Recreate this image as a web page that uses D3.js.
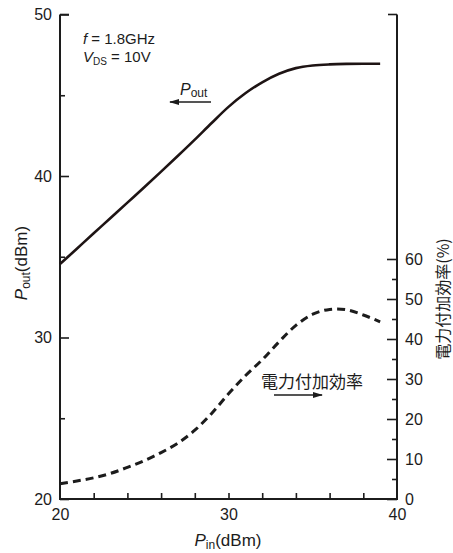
<!DOCTYPE html>
<html>
<head>
<meta charset="utf-8">
<script src="https://cdn.jsdelivr.net/npm/d3@7"></script>
<style>
  html, body { margin: 0; padding: 0; background: #fff; }
  svg { display: block; font-family: "Liberation Sans", Arial, sans-serif; }
  .jp { font-family: "Noto Sans CJK JP", sans-serif; }
</style>
</head>
<body>
<svg id="chart" width="453" height="553"></svg>
<script>
// Pin (dBm) sample points, Pout (dBm, left axis), power-added efficiency (%, right axis)
const pinValues = [20, 21, 22, 23, 24, 25, 26, 27, 28, 29, 30, 31, 32, 33, 34, 35, 36, 37, 38, 39];
const poutValues = [34.55, 35.5, 36.45, 37.4, 38.35, 39.3, 40.27, 41.25, 42.25, 43.28, 44.28, 45.12, 45.8, 46.33, 46.68, 46.84, 46.91, 46.94, 46.95, 46.95];
const paeValues = [3.8, 4.5, 5.3, 6.4, 7.9, 9.6, 11.6, 14.0, 17.2, 21.4, 26.3, 30.8, 34.8, 39.3, 43.4, 46.2, 47.4, 47.3, 46.0, 44.3];

const xTicks = [20, 30, 40];
const xMinorTicks = [22, 24, 26, 28, 30, 32, 34, 36, 38];
const leftTicks = [20, 30, 40, 50];
const leftMinorTicks = [25, 35, 45];
const rightTicks = [0, 10, 20, 30, 40, 50, 60];
const rightMinorTicks = [5, 15, 25, 35, 45, 55];

const svg = d3.select('#chart');
const ink = '#1c1c1c';

const x = d3.scaleLinear().domain([20, 40]).range([60, 397]);
const yL = d3.scaleLinear().domain([20, 50]).range([499, 14.5]);
const yR = d3.scaleLinear().domain([0, 60]).range([499, 259]);

function styleAxis(g, size) {
  g.selectAll('path.domain').remove();
  g.selectAll('line').attr('stroke', ink).attr('stroke-width', 1.6);
  g.selectAll('text').attr('fill', ink).attr('font-size', size);
}

// left axis (ticks point inward)
svg.append('g')
  .attr('transform', 'translate(60,0)')
  .call(d3.axisLeft(yL).tickValues(leftTicks).tickSizeInner(-9).tickSizeOuter(0).tickPadding(8))
  .call((g) => styleAxis(g, 16));
svg.append('g')
  .attr('transform', 'translate(60,0)')
  .call(d3.axisLeft(yL).tickValues(leftMinorTicks).tickSizeInner(-5).tickSizeOuter(0).tickFormat(''))
  .call((g) => styleAxis(g, 16));

// right axis
svg.append('g')
  .attr('transform', 'translate(397,0)')
  .call(d3.axisRight(yR).tickValues(rightTicks).tickSizeInner(-10).tickSizeOuter(0).tickPadding(8))
  .call((g) => styleAxis(g, 16));
svg.append('g')
  .attr('transform', 'translate(397,0)')
  .call(d3.axisRight(yR).tickValues(rightMinorTicks).tickSizeInner(-5).tickSizeOuter(0).tickFormat(''))
  .call((g) => styleAxis(g, 16));

// bottom axis
svg.append('g')
  .attr('transform', 'translate(0,499)')
  .call(d3.axisBottom(x).tickValues(xTicks).tickSizeInner(0).tickSizeOuter(0).tickPadding(10))
  .call((g) => styleAxis(g, 16));
svg.append('g')
  .attr('transform', 'translate(0,499)')
  .call(d3.axisBottom(x).tickValues(xMinorTicks).tickSizeInner(-6).tickSizeOuter(0).tickFormat(''))
  .call((g) => styleAxis(g, 16));

// frame lines: left, right, bottom, and the small top ticks
const frame = svg.append('g').attr('stroke', ink).attr('stroke-width', 2).attr('fill', 'none');
frame.append('path').attr('d', `M${x(20)},${yL(50)}V${yL(20)}H${x(40)}V${yL(50)}`);
frame.append('path').attr('d', `M${x(20)},${yL(50)}h9`).attr('stroke-width', 1.6);
frame.append('path').attr('d', `M${x(40)},${yL(50)}h-9`).attr('stroke-width', 1.6);

// curves
const poutLine = d3.line().curve(d3.curveCatmullRom.alpha(0.5)).x((d, i) => x(pinValues[i])).y((d) => yL(d));
const paeLine = d3.line().curve(d3.curveCatmullRom.alpha(0.5)).x((d, i) => x(pinValues[i])).y((d) => yR(d));

svg.append('path')
  .attr('d', poutLine(poutValues))
  .attr('fill', 'none')
  .attr('stroke', '#1e1414')
  .attr('stroke-width', 2.6);

svg.append('path')
  .attr('d', paeLine(paeValues))
  .attr('fill', 'none')
  .attr('stroke', ink)
  .attr('stroke-width', 3)
  .attr('stroke-dasharray', '8,5');

// arrow marker
svg.append('defs').append('marker')
  .attr('id', 'arrow')
  .attr('viewBox', '0 0 10 6')
  .attr('refX', 9).attr('refY', 3)
  .attr('markerWidth', 10).attr('markerHeight', 6)
  .attr('markerUnits', 'userSpaceOnUse')
  .attr('orient', 'auto')
  .append('path').attr('d', 'M0,0L10,3L0,6Z').attr('fill', ink);

// annotations
const note = svg.append('g').attr('fill', ink).attr('font-size', 15);
const t1 = note.append('text').attr('x', 83).attr('y', 44);
t1.append('tspan').attr('font-style', 'italic').text('f');
t1.append('tspan').text(' = 1.8GHz');
const t2 = note.append('text').attr('x', 83).attr('y', 62);
t2.append('tspan').attr('font-style', 'italic').text('V');
t2.append('tspan').attr('font-size', 10).attr('dy', 3).text('DS');
t2.append('tspan').attr('dy', -3).text(' = 10V');

const pl = note.append('text').attr('x', 180).attr('y', 95).attr('font-size', 16);
pl.append('tspan').attr('font-style', 'italic').text('P');
pl.append('tspan').attr('font-size', 12).attr('dy', 2).text('out');
svg.append('line')
  .attr('x1', 211).attr('x2', 170).attr('y1', 102).attr('y2', 102)
  .attr('stroke', ink).attr('stroke-width', 1.4).attr('marker-end', 'url(#arrow)');

svg.append('text').attr('class', 'jp')
  .attr('x', 312).attr('y', 388).attr('text-anchor', 'middle')
  .attr('font-size', 17).attr('fill', ink).text('電力付加効率');
svg.append('line')
  .attr('x1', 274).attr('x2', 322).attr('y1', 395).attr('y2', 395)
  .attr('stroke', ink).attr('stroke-width', 1.4).attr('marker-end', 'url(#arrow)');

// axis titles
const yTitle = svg.append('text')
  .attr('transform', 'translate(27,263) rotate(-90)')
  .attr('text-anchor', 'middle').attr('font-size', 17).attr('fill', ink);
yTitle.append('tspan').attr('font-style', 'italic').text('P');
yTitle.append('tspan').attr('font-size', 12).attr('dy', 3).text('out');
yTitle.append('tspan').attr('dy', -3).text('(dBm)');

const xTitle = svg.append('text')
  .attr('x', 228).attr('y', 546)
  .attr('text-anchor', 'middle').attr('font-size', 17).attr('fill', ink);
xTitle.append('tspan').attr('font-style', 'italic').text('P');
xTitle.append('tspan').attr('font-size', 12).attr('dy', 3).text('in');
xTitle.append('tspan').attr('dy', -3).text('(dBm)');

svg.append('text').attr('class', 'jp')
  .attr('transform', 'translate(449,299) rotate(-90)')
  .attr('text-anchor', 'middle').attr('font-size', 16).attr('fill', ink)
  .text('電力付加効率(%)');
</script>
</body>
</html>
